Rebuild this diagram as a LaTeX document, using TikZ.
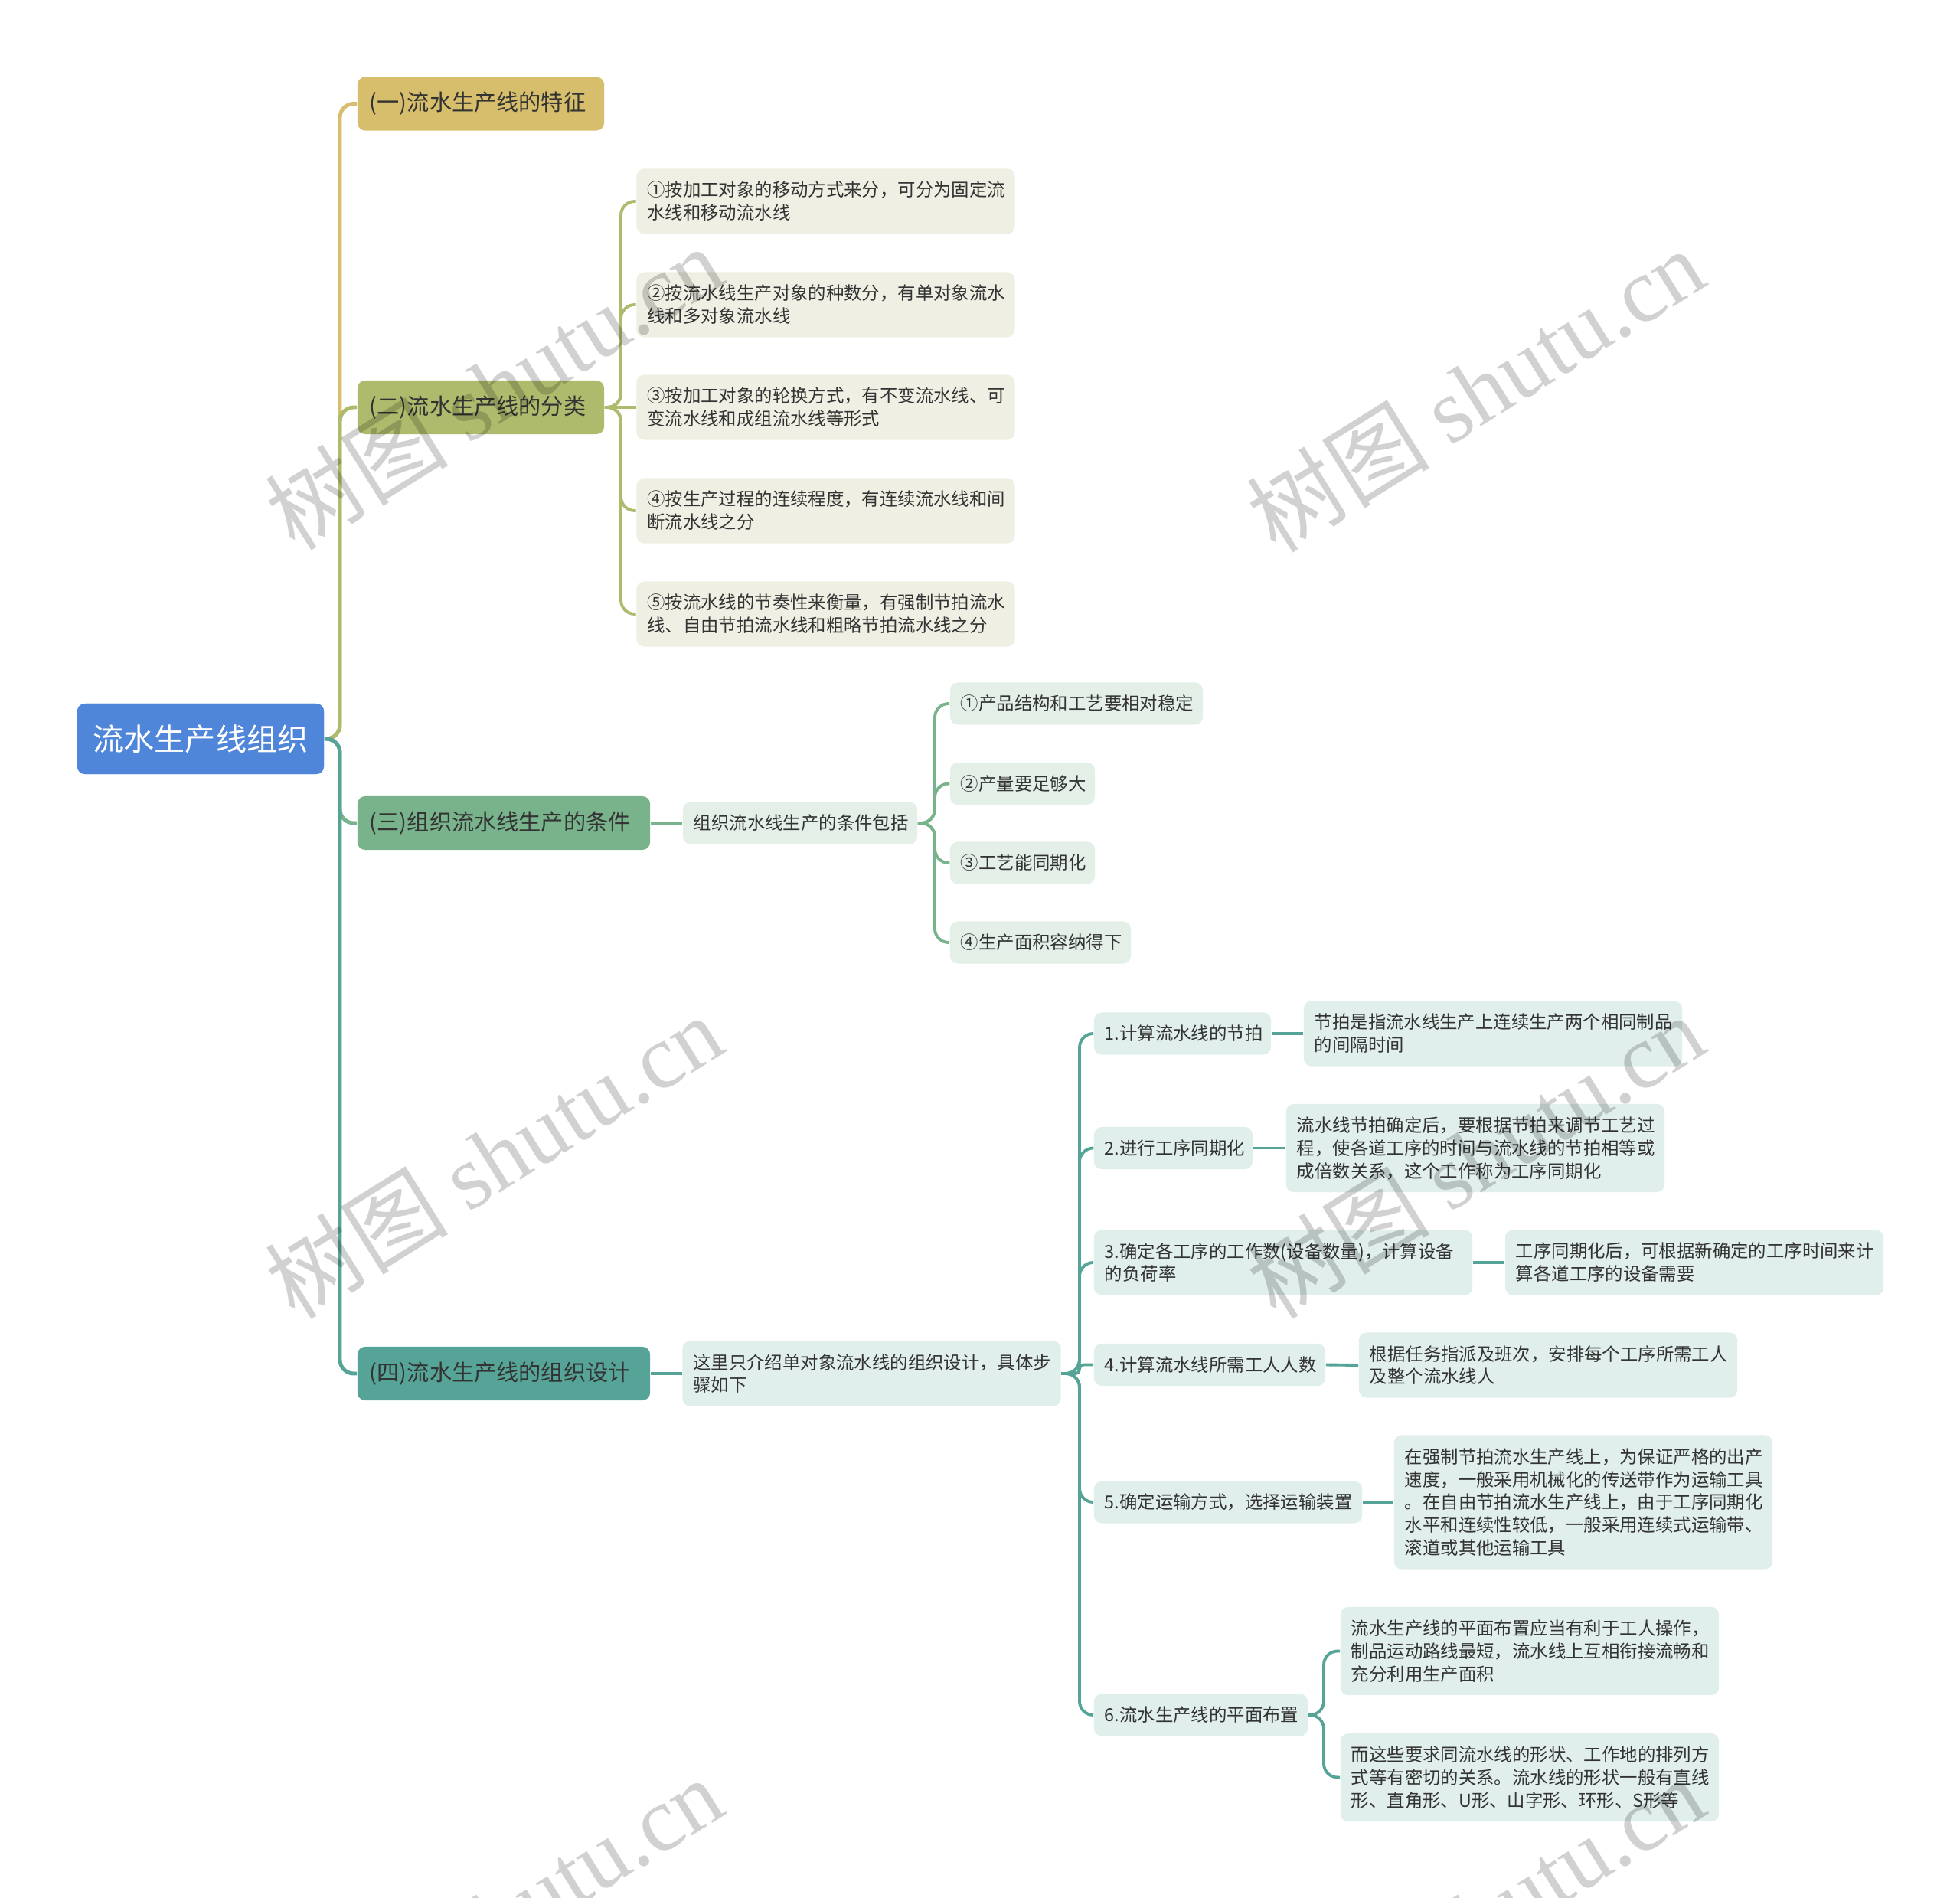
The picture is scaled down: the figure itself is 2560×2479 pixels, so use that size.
\documentclass[tikz,border=0pt]{standalone}
\usepackage{fontspec}
\setmainfont{Noto Sans CJK SC}
\newfontfamily\wmserif{Liberation Serif}
\definecolor{cblue}{HTML}{4F86D9}
\definecolor{cgold}{HTML}{D6BE6C}
\definecolor{colive}{HTML}{AEBA6C}
\definecolor{cgreen}{HTML}{78B38B}
\definecolor{cteal}{HTML}{56A497}
\definecolor{fol}{HTML}{EFEFE3}
\definecolor{fgr}{HTML}{E3EFE7}
\definecolor{fte}{HTML}{E0EEEC}
\definecolor{tdark}{HTML}{333333}
\begin{document}
\begin{tikzpicture}[x=0.01cm, y=-0.01cm,
  rootbox/.style={fill=cblue, rounded corners=0.1cm, minimum width=3.22cm, minimum height=0.92cm,
    inner sep=0pt, text=white, font=\fontsize{11.4pt}{13pt}\selectfont},
  lone/.style={rounded corners=0.1cm, minimum height=0.7cm, inner xsep=0.16cm, inner ysep=0pt,
    align=left, text=tdark, font=\fontsize{8.3pt}{10pt}\selectfont},
  ltwo/.style={rounded corners=0.1cm, inner xsep=0.14cm, inner ysep=0pt,
    align=left, text=tdark, font=\fontsize{6.65pt}{8.5pt}\selectfont},
  wide/.style={minimum width=4.94cm, text width=4.66cm},
  lk/.style={line width=1.4pt, rounded corners=0.18cm},
  lks/.style={line width=1.1pt, rounded corners=0.18cm},
  wm/.style={rotate=32, text=black, text opacity=0.18, inner sep=0pt,
    font=\fontsize{34pt}{34pt}\selectfont}
]
\useasboundingbox (0,0) rectangle (2560,2479);

% ---------- nodes ----------
\node[rootbox] (root) at (262,965) {流水生产线组织};

\node[lone, fill=cgold, minimum width=3.22cm, text width=2.90cm] (n1) at (628,135.5) {(一)流水生产线的特征};
\node[lone, fill=colive, minimum width=3.22cm, text width=2.90cm] (n2) at (628,532) {(二)流水生产线的分类};
\node[lone, fill=cgreen, minimum width=3.82cm, text width=3.50cm] (n3) at (658,1075) {(三)组织流水线生产的条件};
\node[lone, fill=cteal, minimum width=3.82cm, text width=3.50cm] (n4) at (658,1794) {(四)流水生产线的组织设计};

% (二) children
\node[ltwo, wide, fill=fol, minimum height=0.85cm] (c21) at (1078.5,263) {①按加工对象的移动方式来分，可分为固定流\\水线和移动流水线};
\node[ltwo, wide, fill=fol, minimum height=0.85cm] (c22) at (1078.5,398) {②按流水线生产对象的种数分，有单对象流水\\线和多对象流水线};
\node[ltwo, wide, fill=fol, minimum height=0.85cm] (c23) at (1078.5,532) {③按加工对象的轮换方式，有不变流水线、可\\变流水线和成组流水线等形式};
\node[ltwo, wide, fill=fol, minimum height=0.85cm] (c24) at (1078.5,667) {④按生产过程的连续程度，有连续流水线和间\\断流水线之分};
\node[ltwo, wide, fill=fol, minimum height=0.85cm] (c25) at (1078.5,802) {⑤按流水线的节奏性来衡量，有强制节拍流水\\线、自由节拍流水线和粗略节拍流水线之分};

% (三) children
\node[ltwo, fill=fgr, minimum width=3.06cm, text width=2.78cm, minimum height=0.55cm] (m3) at (1045,1075) {组织流水线生产的条件包括};
\node[ltwo, fill=fgr, minimum width=3.30cm, text width=3.02cm, minimum height=0.55cm] (c31) at (1406,919) {①产品结构和工艺要相对稳定};
\node[ltwo, fill=fgr, minimum width=1.89cm, text width=1.61cm, minimum height=0.55cm] (c32) at (1335.5,1023.5) {②产量要足够大};
\node[ltwo, fill=fgr, minimum width=1.89cm, text width=1.61cm, minimum height=0.55cm] (c33) at (1335.5,1127) {③工艺能同期化};
\node[ltwo, fill=fgr, minimum width=2.36cm, text width=2.08cm, minimum height=0.55cm] (c34) at (1359,1231) {④生产面积容纳得下};

% (四) children
\node[ltwo, wide, fill=fte, minimum height=0.85cm] (m4) at (1138.5,1794) {这里只介绍单对象流水线的组织设计，具体步\\骤如下};

\node[ltwo, fill=fte, minimum width=2.31cm, text width=2.03cm, minimum height=0.55cm] (s1) at (1544.5,1350) {1.计算流水线的节拍};
\node[ltwo, wide, fill=fte, minimum height=0.85cm] (d1) at (1950,1350) {节拍是指流水线生产上连续生产两个相同制品\\的间隔时间};

\node[ltwo, fill=fte, minimum width=2.07cm, text width=1.79cm, minimum height=0.55cm] (s2) at (1532.5,1499.5) {2.进行工序同期化};
\node[ltwo, wide, fill=fte, minimum height=1.15cm] (d2) at (1927,1499.5) {流水线节拍确定后，要根据节拍来调节工艺过\\程，使各道工序的时间与流水线的节拍相等或\\成倍数关系，这个工作称为工序同期化};

\node[ltwo, wide, fill=fte, minimum height=0.85cm] (s3) at (1676,1649) {3.确定各工序的工作数(设备数量)，计算设备\\的负荷率};
\node[ltwo, wide, fill=fte, minimum height=0.85cm] (d3) at (2213,1649) {工序同期化后，可根据新确定的工序时间来计\\算各道工序的设备需要};

\node[ltwo, fill=fte, minimum width=3.02cm, text width=2.74cm, minimum height=0.55cm] (s4) at (1580,1782.5) {4.计算流水线所需工人人数};
\node[ltwo, wide, fill=fte, minimum height=0.85cm] (d4) at (2022,1783) {根据任务指派及班次，安排每个工序所需工人\\及整个流水线人};

\node[ltwo, fill=fte, minimum width=3.50cm, text width=3.22cm, minimum height=0.55cm] (s5) at (1604,1962) {5.确定运输方式，选择运输装置};
\node[ltwo, wide, fill=fte, minimum height=1.75cm] (d5) at (2068,1962) {在强制节拍流水生产线上，为保证严格的出产\\速度，一般采用机械化的传送带作为运输工具\\。在自由节拍流水生产线上，由于工序同期化\\水平和连续性较低，一般采用连续式运输带、\\滚道或其他运输工具};

\node[ltwo, fill=fte, minimum width=2.79cm, text width=2.51cm, minimum height=0.55cm] (s6) at (1568.5,2240) {6.流水生产线的平面布置};
\node[ltwo, wide, fill=fte, minimum height=1.15cm] (d6a) at (1998,2156.5) {流水生产线的平面布置应当有利于工人操作，\\制品运动路线最短，流水线上互相衔接流畅和\\充分利用生产面积};
\node[ltwo, wide, fill=fte, minimum height=1.15cm] (d6b) at (1998,2321.5) {而这些要求同流水线的形状、工作地的排列方\\式等有密切的关系。流水线的形状一般有直线\\形、直角形、U形、山字形、环形、S形等};

% ---------- connectors ----------
\begin{scope}[on background layer/.style={}]
\coordinate (rj) at (444,965);
\draw[lk, draw=cgold] (root.east) -- (rj) |- (n1.west);
\draw[lk, draw=colive] (root.east) -- (rj) |- (n2.west);
\draw[lk, draw=cgreen] (root.east) -- (rj) |- (n3.west);
\draw[lk, draw=cteal] (root.east) -- (rj) |- (n4.west);

\coordinate (j2) at (811,532);
\draw[lks, draw=colive] (n2.east) -- (j2) |- (c21.west);
\draw[lks, draw=colive] (n2.east) -- (j2) |- (c22.west);
\draw[lks, draw=colive] (n2.east) -- (c23.west);
\draw[lks, draw=colive] (n2.east) -- (j2) |- (c24.west);
\draw[lks, draw=colive] (n2.east) -- (j2) |- (c25.west);

\draw[lks, draw=cgreen] (n3.east) -- (m3.west);
\coordinate (j3) at (1221,1075);
\draw[lks, draw=cgreen] (m3.east) -- (j3) |- (c31.west);
\draw[lks, draw=cgreen] (m3.east) -- (j3) |- (c32.west);
\draw[lks, draw=cgreen] (m3.east) -- (j3) |- (c33.west);
\draw[lks, draw=cgreen] (m3.east) -- (j3) |- (c34.west);

\draw[lks, draw=cteal] (n4.east) -- (m4.west);
\coordinate (j4) at (1410,1794);
\draw[lks, draw=cteal] (m4.east) -- (j4) |- (s1.west);
\draw[lks, draw=cteal] (m4.east) -- (j4) |- (s2.west);
\draw[lks, draw=cteal] (m4.east) -- (j4) |- (s3.west);
\draw[lks, draw=cteal, rounded corners=0.05cm] (m4.east) -- (j4) |- (s4.west);
\draw[lks, draw=cteal] (m4.east) -- (j4) |- (s5.west);
\draw[lks, draw=cteal] (m4.east) -- (j4) |- (s6.west);

\draw[lks, draw=cteal] (s1.east) -- (d1.west);
\draw[lks, draw=cteal] (s2.east) -- (d2.west);
\draw[lks, draw=cteal] (s3.east) -- (d3.west);
\draw[lks, draw=cteal] (s4.east) -- (d4.west);
\draw[lks, draw=cteal] (s5.east) -- (d5.west);
\coordinate (j6) at (1729,2240);
\draw[lks, draw=cteal] (s6.east) -- (j6) |- (d6a.west);
\draw[lks, draw=cteal] (s6.east) -- (j6) |- (d6b.west);
\end{scope}

% redraw nodes on top of connector ends
\node[rootbox] at (root) {流水生产线组织};

% ---------- watermarks ----------
\node[wm] (wm1) at (645,506) {树图 {\wmserif shutu.cn}};
\node[wm] (wm2) at (1927,509) {树图 {\wmserif shutu.cn}};
\node[wm] (wm3) at (645,1510) {树图 {\wmserif shutu.cn}};
\node[wm] (wm4) at (1927,1510) {树图 {\wmserif shutu.cn}};
\node[wm] (wm5) at (645,2506) {树图 {\wmserif shutu.cn}};
\node[wm] (wm6) at (1927,2506) {树图 {\wmserif shutu.cn}};
\end{tikzpicture}
\end{document}
